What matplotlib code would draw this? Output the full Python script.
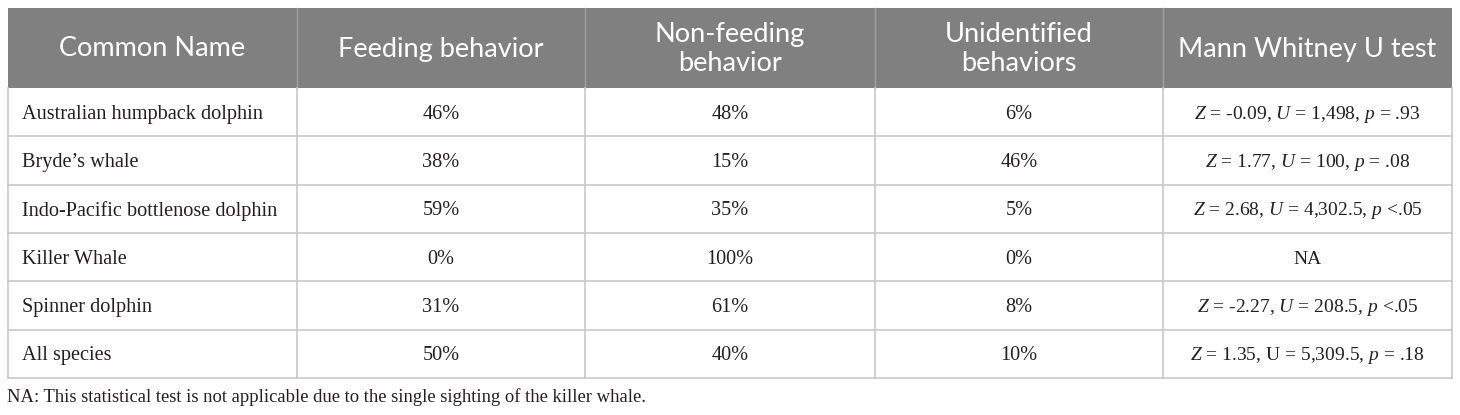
import matplotlib.pyplot as plt

plt.rcParams['mathtext.fontset'] = 'custom'
plt.rcParams['mathtext.it'] = 'Liberation Serif:italic'
plt.rcParams['mathtext.rm'] = 'Liberation Serif'

# Datos de la tabla
columnas = ['Common Name', 'Feeding behavior', 'Non-feeding\nbehavior',
            'Unidentified\nbehaviors', 'Mann Whitney U test']
especies = ['Australian humpback dolphin', 'Bryde\u2019s whale',
            'Indo-Pacific bottlenose dolphin', 'Killer Whale',
            'Spinner dolphin', 'All species']
alimentacion = ['46%', '38%', '59%', '0%', '31%', '50%']
no_alimentacion = ['48%', '15%', '35%', '100%', '61%', '40%']
no_identificado = ['6%', '46%', '5%', '0%', '8%', '10%']
prueba_mw = ['$Z$ = -0.09, $U$ = 1,498, $p$ = .93',
             '$Z$ = 1.77, $U$ = 100, $p$ = .08',
             '$Z$ = 2.68, $U$ = 4,302.5, $p$ <.05',
             'NA',
             '$Z$ = -2.27, $U$ = 208.5, $p$ <.05',
             '$Z$ = 1.35, U = 5,309.5, $p$ = .18']
nota = 'NA: This statistical test is not applicable due to the single sighting of the killer whale.'

fig = plt.figure(figsize=(14.6, 4.15), dpi=100)
ax = fig.add_axes([0, 0, 1, 1])
ax.set_xlim(0, 1460)
ax.set_ylim(415, 0)
ax.axis('off')

bordes_x = [8, 297, 585, 875, 1163, 1452]
y_top = 8
y_head = 88
alto_fila = 48.3
gris_linea = '#c8c8c8'
tinta = '#231f20'

# cabecera
ax.add_patch(plt.Rectangle((bordes_x[0], y_top), bordes_x[-1] - bordes_x[0], y_head - y_top,
                           facecolor='#808080', edgecolor='none'))
for i, col in enumerate(columnas):
    xc = (bordes_x[i] + bordes_x[i + 1]) / 2
    ax.text(xc, (y_top + y_head) / 2 + 1, col, ha='center', va='center', color='white',
            fontsize=19.5, family='Lato', linespacing=1.22)
for x in bordes_x[1:-1]:
    ax.plot([x, x], [y_top, y_head], color='#a0a0a0', lw=1)

# filas
filas = list(zip(especies, alimentacion, no_alimentacion, no_identificado, prueba_mw))
y_fin = y_head + alto_fila * len(filas)
for r, fila in enumerate(filas):
    yc = y_head + alto_fila * (r + 0.5) + 2
    for i, val in enumerate(fila):
        if i == 0:
            ax.text(bordes_x[0] + 14, yc, val, ha='left', va='center',
                    fontsize=14.6, family='Liberation Serif', color=tinta)
        else:
            xc = (bordes_x[i] + bordes_x[i + 1]) / 2
            ax.text(xc, yc, val, ha='center', va='center',
                    fontsize=14.0 if i == 4 else 14.6, family='Liberation Serif', color=tinta)
    y_linea = y_head + alto_fila * (r + 1)
    ax.plot([bordes_x[0], bordes_x[-1]], [y_linea, y_linea], color=gris_linea, lw=1.2)

for x in bordes_x:
    ax.plot([x, x], [y_head, y_fin], color=gris_linea, lw=1.2)

ax.text(bordes_x[0] - 1, 397, nota, ha='left', va='center', fontsize=13.4,
        family='Liberation Serif', color=tinta)

fig.savefig('out.png', dpi=100)
